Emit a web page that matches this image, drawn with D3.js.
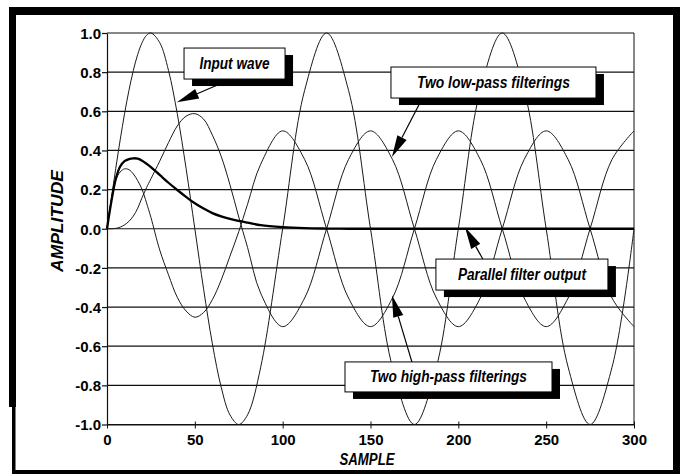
<!DOCTYPE html>
<html>
<head>
<meta charset="utf-8">
<script src="https://cdn.jsdelivr.net/npm/d3@7"></script>
<style>
  html, body { margin: 0; padding: 0; background: #fff; }
  svg { display: block; }
  text { font-family: "Liberation Sans", Arial, Helvetica, sans-serif; fill: #000; }
</style>
</head>
<body>
<svg id="chart" width="680" height="475"></svg>
<script>
// Sample positions shared by every trace
const samples = [0, 2.5, 5, 7.5, 10, 12.5, 15, 17.5, 20, 22.5, 25, 30, 35, 40, 45, 50, 55, 60, 65, 70,
  75, 80, 87.5, 100, 112.5, 125, 137.5, 150, 162.5, 175, 187.5, 200, 212.5, 225, 237.5, 250, 262.5, 275, 287.5, 300];

// Input sine wave
const inputWave = [0, 0.156, 0.309, 0.454, 0.588, 0.707, 0.809, 0.891, 0.951, 0.988, 1.0, 0.951, 0.809, 0.588, 0.309, 0.0,
  -0.309, -0.588, -0.809, -0.951, -1.0, -0.951, -0.707, 0.0, 0.707, 1.0, 0.707, 0.0, -0.707, -1.0, -0.707, 0.0,
  0.707, 1.0, 0.707, 0.0, -0.707, -1.0, -0.707, 0.0];

// Two low-pass filterings
const lowPass = [0, 0.0, 0.002, 0.008, 0.02, 0.038, 0.065, 0.105, 0.16, 0.21, 0.255, 0.345, 0.44, 0.525, 0.575, 0.588,
  0.56, 0.478, 0.37, 0.225, 0.06, -0.095, -0.33, -0.5, -0.354, 0.0, 0.354, 0.5, 0.354, 0.0, -0.354, -0.5,
  -0.354, 0.0, 0.354, 0.5, 0.354, 0.0, -0.354, -0.5];

// Two high-pass filterings
const highPass = [0, 0.15, 0.25, 0.29, 0.306, 0.302, 0.28, 0.245, 0.2, 0.132, 0.058, -0.108, -0.235, -0.35, -0.42, -0.452,
  -0.428, -0.362, -0.262, -0.14, -0.015, 0.125, 0.33, 0.5, 0.354, 0.0, -0.354, -0.5, -0.354, 0.0, 0.354, 0.5,
  0.354, 0.0, -0.354, -0.5, -0.354, 0.0, 0.354, 0.5];

// Parallel filter output (sum of the two branches)
const parallelOut = [0, 0.14, 0.255, 0.318, 0.345, 0.356, 0.36, 0.358, 0.348, 0.332, 0.315, 0.275, 0.235, 0.198, 0.163, 0.13,
  0.103, 0.08, 0.063, 0.05, 0.04, 0.031, 0.018, 0.008, 0.003, 0.001, 0, 0, 0, 0, 0, 0,
  0, 0, 0, 0, 0, 0, 0, 0];

const xTicks = [0, 50, 100, 150, 200, 250, 300];
const xTickLabels = ["0", "50", "100", "150", "200", "250", "300"];
const yTicks = [-1.0, -0.8, -0.6, -0.4, -0.2, 0.0, 0.2, 0.4, 0.6, 0.8, 1.0];
const yTickLabels = ["-1.0", "-0.8", "-0.6", "-0.4", "-0.2", "0.0", "0.2", "0.4", "0.6", "0.8", "1.0"];

// Callout boxes: centre (in sample/amplitude units), arrow start and tip
const callouts = [
  { text: "Input wave",               at: [72.6, 0.844],  w: 101, h: 31, tw: 70,  from: [62.6, 0.733],  tip: [39.8, 0.646] },
  { text: "Two low-pass filterings",  at: [220.0, 0.747], w: 205, h: 31, tw: 153, from: [178.7, 0.653], tip: [162.2, 0.366] },
  { text: "Parallel filter output",   at: [236.2, -0.234], w: 172, h: 31, tw: 128, from: [214.0, -0.156], tip: [203.8, 0.008] },
  { text: "Two high-pass filterings", at: [194.4, -0.757], w: 207, h: 30, tw: 157, from: [173.6, -0.681], tip: [162.2, -0.34] }
];

const svg = d3.select("#chart");

const x = d3.scaleLinear().domain([0, 300]).range([107, 634]);
const y = d3.scaleLinear().domain([-1, 1]).range([424.5, 33]);

// Outer frame
const frame = svg.append("g").attr("fill", "#000");
frame.append("rect").attr("x", 9).attr("y", 7).attr("width", 671).attr("height", 8);
frame.append("rect").attr("x", 9).attr("y", 7).attr("width", 7).attr("height", 400);
frame.append("rect").attr("x", 12).attr("y", 405).attr("width", 3.5).attr("height", 69);
frame.append("rect").attr("x", 12).attr("y", 470).attr("width", 668).attr("height", 4);
frame.append("rect").attr("x", 673).attr("y", 7).attr("width", 7).attr("height", 467);

// Horizontal grid lines
svg.append("g")
  .selectAll("line")
  .data(yTicks)
  .join("line")
  .attr("x1", x(0)).attr("x2", x(300))
  .attr("y1", d => y(d)).attr("y2", d => y(d))
  .attr("stroke", "#111").attr("stroke-width", 1.2);

// Right edge of the plot
svg.append("line")
  .attr("x1", x(300)).attr("x2", x(300))
  .attr("y1", y(1)).attr("y2", y(-1))
  .attr("stroke", "#111").attr("stroke-width", 1);

// Y axis
const yAxis = svg.append("g")
  .attr("transform", `translate(${x(0)},0)`)
  .call(d3.axisLeft(y).tickValues(yTicks).tickSize(5).tickSizeOuter(0)
    .tickFormat((d, i) => yTickLabels[i]));
yAxis.select(".domain").attr("stroke", "#111").attr("stroke-width", 1.2);
yAxis.selectAll(".tick line").attr("stroke", "#111").attr("stroke-width", 1.2);
yAxis.selectAll(".tick text")
  .attr("x", -6).attr("dy", "0.35em")
  .style("font-size", "15px").style("font-weight", "bold").attr("fill", "#000");

// X axis
const xAxis = svg.append("g")
  .attr("transform", `translate(0,${y(-1)})`)
  .call(d3.axisBottom(x).tickValues(xTicks).tickSize(4).tickSizeOuter(0)
    .tickFormat((d, i) => xTickLabels[i]));
xAxis.select(".domain").attr("stroke", "#111").attr("stroke-width", 1.2);
xAxis.selectAll(".tick line").attr("y1", -3).attr("stroke", "#111").attr("stroke-width", 1);
xAxis.selectAll(".tick text")
  .attr("y", 20.5).attr("dy", 0)
  .style("font-size", "15px").style("font-weight", "bold").attr("fill", "#000");

// Axis titles
svg.append("text")
  .attr("x", 367).attr("y", 465)
  .attr("text-anchor", "middle")
  .attr("textLength", 55).attr("lengthAdjust", "spacingAndGlyphs")
  .style("font-size", "16px").style("font-weight", "bold").style("font-style", "italic")
  .text("SAMPLE");

svg.append("text")
  .attr("transform", "translate(63,221) rotate(-90)")
  .attr("text-anchor", "middle")
  .attr("textLength", 102).attr("lengthAdjust", "spacingAndGlyphs")
  .style("font-size", "16px").style("font-weight", "bold").style("font-style", "italic")
  .text("AMPLITUDE");

// Traces
const line = d3.line()
  .x((d, i) => x(samples[i]))
  .y(d => y(d))
  .curve(d3.curveCatmullRom.alpha(0.5));

const thin = [inputWave, lowPass, highPass];
svg.append("g")
  .selectAll("path")
  .data(thin)
  .join("path")
  .attr("d", line)
  .attr("fill", "none")
  .attr("stroke", "#1a1a1a")
  .attr("stroke-width", 1);

svg.append("path")
  .attr("d", line(parallelOut))
  .attr("fill", "none")
  .attr("stroke", "#000")
  .attr("stroke-width", 2.3)
  .attr("stroke-linejoin", "round");

// Callouts with arrows and drop shadows
const headLen = 22, headHalf = 5.2, shadowDx = 8, shadowDy = 7;
const cg = svg.append("g");
callouts.forEach(c => {
  const sx = x(c.from[0]), sy = y(c.from[1]);
  const tx = x(c.tip[0]), ty = y(c.tip[1]);
  const len = Math.hypot(tx - sx, ty - sy);
  const ux = (tx - sx) / len, uy = (ty - sy) / len;
  const bx = tx - ux * headLen, by = ty - uy * headLen;
  const nx = -uy, ny = ux;
  cg.append("line")
    .attr("x1", sx).attr("y1", sy).attr("x2", bx).attr("y2", by)
    .attr("stroke", "#000").attr("stroke-width", 1.2);
  cg.append("path")
    .attr("d", `M${tx},${ty}L${bx + nx * headHalf},${by + ny * headHalf}L${bx - nx * headHalf},${by - ny * headHalf}Z`)
    .attr("fill", "#000");

  const left = x(c.at[0]) - c.w / 2, top = y(c.at[1]) - c.h / 2;
  cg.append("rect")
    .attr("x", left + shadowDx).attr("y", top + shadowDy)
    .attr("width", c.w).attr("height", c.h)
    .attr("fill", "#000");
  cg.append("rect")
    .attr("x", left).attr("y", top)
    .attr("width", c.w).attr("height", c.h)
    .attr("fill", "#fff").attr("stroke", "#000").attr("stroke-width", 1);
  cg.append("text")
    .attr("x", left + c.w / 2).attr("y", top + c.h / 2 + 5.5)
    .attr("text-anchor", "middle")
    .attr("textLength", c.tw).attr("lengthAdjust", "spacingAndGlyphs")
    .style("font-size", "16px").style("font-weight", "bold").style("font-style", "italic")
    .text(c.text);
});
</script>
</body>
</html>
